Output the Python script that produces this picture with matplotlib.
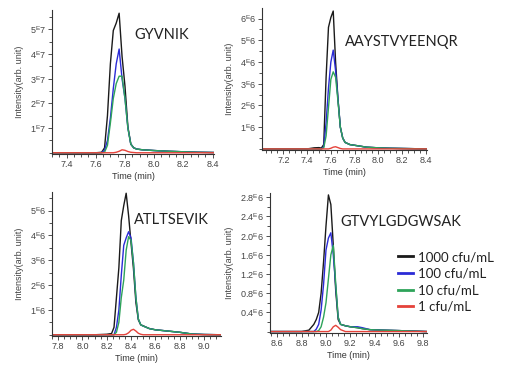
import numpy as np
import matplotlib
matplotlib.use("Agg")
import matplotlib.pyplot as plt
from matplotlib.ticker import MultipleLocator
from matplotlib.lines import Line2D

plt.rcParams['font.family'] = ['Liberation Sans', 'DejaVu Sans']
plt.rcParams['mathtext.fontset'] = 'custom'
plt.rcParams['mathtext.rm'] = 'Liberation Sans'

# series labels / colours
conc = ['1000 cfu/mL', '100 cfu/mL', '10 cfu/mL', '1 cfu/mL']
colors = ['#1a1a1a', '#2b2bd6', '#2ea35a', '#e5423a']

# --- GYVNIK (intensity in 1E7) ---
t_gyv = [7.30, 7.60, 7.64, 7.66, 7.68, 7.70, 7.72, 7.74, 7.76, 7.78, 7.80, 7.82,
         7.84, 7.86, 7.88, 7.92, 8.00, 8.10, 8.20, 8.30, 8.41]
gyv_1000 = [0, 0, 0.02, 0.2, 1.5, 3.6, 4.95, 5.25, 5.65, 3.9, 2.7, 1.05,
            0.35, 0.2, 0.15, 0.12, 0.09, 0.06, 0.04, 0.02, 0.01]
gyv_100 = [0, 0, 0, 0.1, 0.5, 1.4, 2.6, 3.6, 4.2, 3.0, 2.2, 1.0,
           0.35, 0.2, 0.15, 0.12, 0.09, 0.06, 0.04, 0.02, 0.01]
gyv_10 = [0, 0, 0, 0.02, 0.3, 1.2, 2.2, 2.8, 3.1, 3.1, 2.2, 1.0,
          0.35, 0.2, 0.15, 0.12, 0.09, 0.06, 0.04, 0.02, 0.01]
gyv_1 = [0, 0, 0, 0, 0, 0, 0, 0.02, 0.06, 0.12, 0.1, 0.05,
         0.02, 0.01, 0, 0, 0, 0, 0, 0, 0]

# --- AAYSTVYEENQR (intensity in 1E6) ---
t_aay = [7.02, 7.40, 7.46, 7.50, 7.52, 7.54, 7.56, 7.58, 7.60, 7.62, 7.64, 7.66,
         7.68, 7.70, 7.72, 7.76, 7.82, 7.90, 8.00, 8.10, 8.20, 8.41]
aay_1000 = [0, 0, 0.05, 0.06, 0.04, 0.2, 3.3, 5.6, 6.05, 6.35, 4.0, 2.3,
            1.0, 0.5, 0.3, 0.2, 0.15, 0.08, 0.05, 0.03, 0.02, 0]
aay_100 = [0, 0, 0, 0, 0, 0.1, 1.2, 2.8, 4.0, 4.55, 3.6, 2.3,
           1.0, 0.5, 0.3, 0.2, 0.15, 0.08, 0.05, 0.03, 0.02, 0]
aay_10 = [0, 0, 0, 0, 0, 0.05, 0.6, 1.9, 3.2, 3.55, 3.3, 2.2,
          1.0, 0.5, 0.3, 0.2, 0.15, 0.08, 0.05, 0.03, 0.02, 0]
aay_1 = [0, 0, 0, 0, 0, 0, 0, 0, 0.03, 0.08, 0.1, 0.06,
         0.02, 0, 0, 0, 0, 0, 0, 0, 0, 0]

# --- ATLTSEVIK (intensity in 1E6) ---
t_atl = [7.75, 8.10, 8.20, 8.24, 8.26, 8.28, 8.30, 8.32, 8.34, 8.36, 8.38, 8.40,
         8.42, 8.44, 8.46, 8.48, 8.50, 8.55, 8.60, 8.70, 8.80, 8.90, 9.00, 9.14]
atl_1000 = [0, 0, 0.02, 0.05, 0.3, 1.5, 2.7, 4.6, 5.2, 5.7, 4.8, 3.7,
            2.66, 1.3, 0.6, 0.4, 0.36, 0.25, 0.2, 0.15, 0.1, 0.03, 0.01, 0]
atl_100 = [0, 0, 0, 0, 0, 0.3, 1.0, 2.4, 3.6, 3.9, 4.15, 3.9,
           2.9, 1.5, 0.64, 0.4, 0.35, 0.25, 0.2, 0.15, 0.1, 0.03, 0.01, 0]
atl_10 = [0, 0, 0, 0, 0, 0.1, 0.5, 1.5, 2.2, 3.4, 3.95, 3.8,
          2.9, 1.5, 0.64, 0.4, 0.35, 0.25, 0.2, 0.15, 0.1, 0.03, 0.01, 0]
atl_1 = [0, 0, 0, 0, 0, 0, 0, 0, 0, 0.02, 0.08, 0.18,
         0.22, 0.15, 0.06, 0.02, 0, 0, 0, 0, 0, 0, 0, 0]

# --- GTVYLGDGWSAK (intensity in 1E6) ---
t_gtv = [8.54, 8.80, 8.86, 8.90, 8.92, 8.94, 8.96, 8.98, 9.00, 9.02, 9.04, 9.06,
         9.08, 9.10, 9.12, 9.16, 9.20, 9.26, 9.30, 9.36, 9.45, 9.60, 9.83]
gtv_1000 = [0, 0, 0.03, 0.15, 0.25, 0.4, 0.8, 1.45, 2.2, 2.85, 2.65, 1.8,
            0.85, 0.25, 0.15, 0.12, 0.1, 0.08, 0.06, 0.04, 0.03, 0.02, 0]
gtv_100 = [0, 0, 0, 0, 0.05, 0.15, 0.45, 0.98, 1.7, 1.95, 2.06, 1.6,
           0.95, 0.3, 0.15, 0.12, 0.1, 0.1, 0.08, 0.04, 0.03, 0.02, 0]
gtv_10 = [0, 0, 0, 0, 0, 0.02, 0.1, 0.3, 0.6, 1.1, 1.6, 1.8,
          1.0, 0.3, 0.15, 0.12, 0.1, 0.08, 0.06, 0.04, 0.03, 0.02, 0]
gtv_1 = [0, 0, 0, 0, 0, 0, 0, 0, 0, 0, 0.03, 0.1,
         0.13, 0.09, 0.04, 0, 0, 0, 0, 0, 0, 0, 0]

panels = [
    # name, time, series, xlim, xticks, ylim, yticks, ylabels, minor step
    ('GYVNIK', t_gyv, [gyv_1000, gyv_100, gyv_10, gyv_1], (7.30, 8.41),
     np.arange(7.4, 8.41, 0.2), (-0.05, 5.78), [1, 2, 3, 4, 5],
     [r'%d$^{\mathrm{E}}$7' % v for v in [1, 2, 3, 4, 5]], 0.5),
    ('AAYSTVYEENQR', t_aay, [aay_1000, aay_100, aay_10, aay_1], (7.02, 8.41),
     np.arange(7.2, 8.41, 0.2), (-0.05, 6.49), [1, 2, 3, 4, 5, 6],
     [r'%d$^{\mathrm{E}}$6' % v for v in [1, 2, 3, 4, 5, 6]], 0.5),
    ('ATLTSEVIK', t_atl, [atl_1000, atl_100, atl_10, atl_1], (7.75, 9.14),
     np.arange(7.8, 9.01, 0.2), (-0.05, 5.75), [1, 2, 3, 4, 5],
     [r'%d$^{\mathrm{E}}$6' % v for v in [1, 2, 3, 4, 5]], 0.5),
    ('GTVYLGDGWSAK', t_gtv, [gtv_1000, gtv_100, gtv_10, gtv_1], (8.54, 9.83),
     np.arange(8.6, 9.81, 0.2), (-0.03, 2.89), [0.4, 0.8, 1.2, 1.6, 2.0, 2.4, 2.8],
     [r'%.1f$^{\mathrm{E}}$6' % v for v in [0.4, 0.8, 1.2, 1.6, 2.0, 2.4, 2.8]], 0.2),
]

# axes rectangles in pixels: left, right, top, bottom
W, H = 509, 365
rects = [(52, 214, 10, 154), (262, 427, 8, 150), (52, 221, 192, 336), (270, 427, 193, 333)]
name_pos = [(162, 35), (402, 42), (171, 220), (401, 222)]

fig = plt.figure(figsize=(W / 100, H / 100), dpi=100)

for i, (name, t, series, xlim, xt, ylim, yt, yl, ymin) in enumerate(panels):
    l, r, tp, b = rects[i]
    ax = fig.add_axes([l / W, 1 - b / H, (r - l) / W, (b - tp) / H])
    for s, c in zip(series, colors):
        ax.plot(t, s, color=c, lw=1.0)
    ax.set_xlim(*xlim)
    ax.set_ylim(*ylim)
    ax.set_xticks(xt, ['%.1f' % v for v in xt])
    ax.xaxis.set_minor_locator(MultipleLocator(0.05))
    ax.set_yticks(yt, yl)
    ax.yaxis.set_minor_locator(MultipleLocator(ymin))
    for sp in ['top', 'right']:
        ax.spines[sp].set_visible(False)
    for sp in ['left', 'bottom']:
        ax.spines[sp].set_color('#333333')
        ax.spines[sp].set_linewidth(0.8)
    ax.tick_params(which='both', direction='out', color='#333333', width=0.6,
                   labelsize=6.5, labelcolor='#444444', pad=1.5)
    ax.tick_params(which='major', length=3)
    ax.tick_params(which='minor', length=2)
    ax.set_xlabel('Time (min)', fontsize=6.5, color='#333333', labelpad=2)
    ax.set_ylabel('Intensity(arb. unit)', fontsize=6.5, color='#444444', labelpad=4)
    ax.set_zorder(1)
    ax.patch.set_visible(False)
    fig.text(name_pos[i][0] / W, 1 - name_pos[i][1] / H, name, family='Lato',
             fontsize=10.5, color='#222222', ha='center', va='center')

handles = [Line2D([], [], color=c, lw=2) for c in colors]
fig.legend(handles, conc, loc='upper left', bbox_to_anchor=(398 / W, 1 - 251 / H),
           frameon=False, prop={'family': 'Lato', 'size': 9.5}, handlelength=1.1,
           handletextpad=0.45, labelspacing=0.35, borderpad=0, borderaxespad=0,
           labelcolor='#222222')

fig.savefig('out.png', dpi=100)
